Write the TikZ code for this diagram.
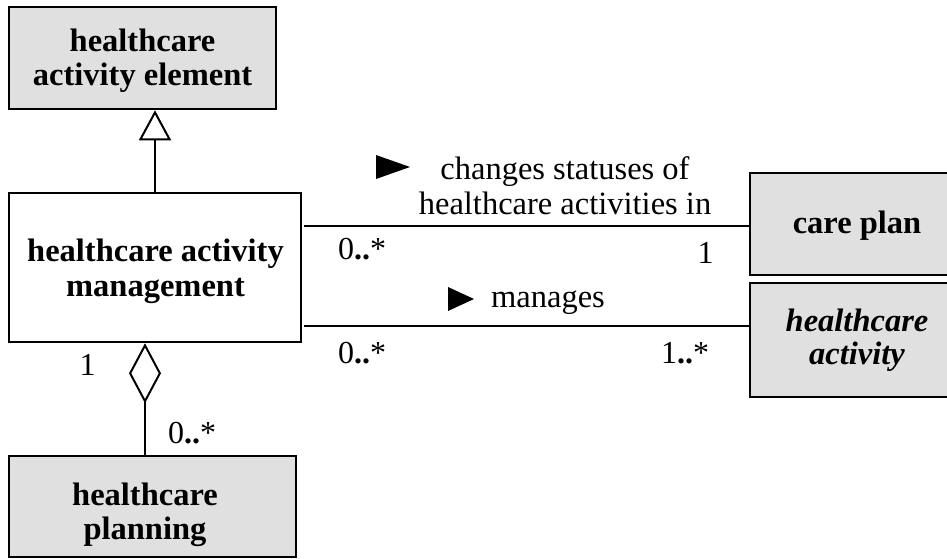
\documentclass[tikz,border=0pt]{standalone}
\usepackage{fontspec}
\setmainfont{Liberation Serif}
\usetikzlibrary{arrows.meta}
\definecolor{boxgray}{HTML}{E0E0E0}
\newcommand{\mdots}{\textbf{..}}
\tikzset{
  classbox/.style={draw=black, line width=2.6pt, inner sep=0pt},
  shaded/.style={fill=boxgray},
  classname/.style={align=center, inner sep=0pt, font=\fontsize{32.5}{#1}\selectfont\bfseries},
  classname/.default=34,
  assoc/.style={line width=2pt},
  lbl/.style={font=\fontsize{32.5}{35}\selectfont, inner sep=0pt, align=center},
  mult/.style={font=\fontsize{32}{35}\selectfont, inner sep=0pt, anchor=base},
  dirmark/.style={fill=black},
}
\begin{document}
\begin{tikzpicture}[x=1pt,y=-1pt]
\useasboundingbox (0,0) rectangle (947,559);

% class boxes
\node[classbox, shaded, minimum width=267pt, minimum height=102pt] (elem) at (142.5,58) {};
\node[classbox, minimum width=292pt, minimum height=149pt] (mgmt) at (155,267.5) {};
\node[classbox, shaded, minimum width=287pt, minimum height=101pt] (plan) at (152.5,506.5) {};
\node[classbox, shaded, minimum width=214pt, minimum height=102pt] (care) at (857,224) {};
\node[classbox, shaded, minimum width=214pt, minimum height=114pt] (act) at (857,340) {};

% class names
\node[classname=34] (elemname) at (142.5,60.5) {healthcare\\activity element};
\node[classname=35] (mgmtname) at (155.5,271) {healthcare activity\\management};
\node[classname=34] (planname) at (145,514.5) {healthcare\\planning};
\node[classname, anchor=base] (carename) at (857,233) {care plan};
\node[classname=33, font=\fontsize{32.5}{33}\selectfont\bfseries\itshape] (actname) at (857,340.5) {healthcare\\activity};

% generalization
\coordinate (genfoot) at (155,193);
\draw[assoc, -{Triangle[open, length=30pt, width=32pt, line width=2pt]}] (genfoot) -- (genfoot |- elem.south);

% aggregation
\coordinate (aggfoot) at (145,456);
\draw[assoc, {Diamond[open, length=60pt, width=32pt, line width=2pt]}-] (aggfoot |- mgmt.south) -- (aggfoot);
\node[mult] (m1) at (87.5,375) {1};
\node[mult] (m2) at (192,443) {0\mdots*};

% associations
\coordinate (a1) at (304,226);
\coordinate (a2) at (304,326);
\draw[assoc] (a1) -- (a1 -| care.west);
\draw[assoc] (a2) -- (a2 -| act.west);

\node[lbl] (l1) at (565,186) {changes statuses of\\healthcare activities in};
\fill[dirmark] (376,155) -- (410,167) -- (376,179) -- cycle;
\node[mult] (m3) at (362,259) {0\mdots*};
\node[mult] (m4) at (705.5,263) {1};

\node[lbl, anchor=base] (l2) at (548,307) {manages};
\fill[dirmark] (448,287) -- (474,299) -- (448,311) -- cycle;
\node[mult] (m5) at (362,363) {0\mdots*};
\node[mult] (m6) at (685,363) {1\mdots*};
\end{tikzpicture}
\end{document}
